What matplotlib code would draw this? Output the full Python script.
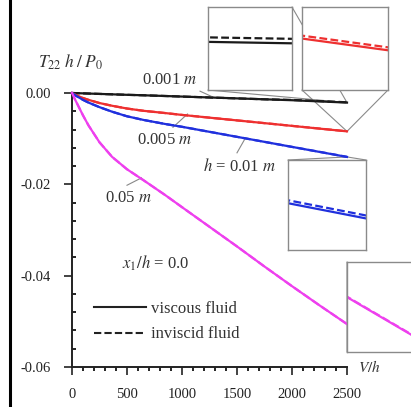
import matplotlib
matplotlib.use('Agg')
import matplotlib.pyplot as plt
import numpy as np
from matplotlib.lines import Line2D
from matplotlib.patches import ConnectionPatch
from matplotlib.ticker import MultipleLocator, FormatStrFormatter

plt.rcParams['font.family'] = ['Liberation Serif', 'DejaVu Serif']
plt.rcParams['mathtext.fontset'] = 'stix'
plt.rcParams['axes.unicode_minus'] = False

# valores (V/h e T22 h / P0)
vh = [0, 25, 50, 100, 150, 250, 365, 500, 650, 850, 1000, 1250, 1500, 1750, 2000, 2250, 2500]

h001_visc = [0, -0.00002, -0.00004, -0.00008, -0.00012, -0.0002, -0.00029, -0.0004, -0.0005,
             -0.00066, -0.00078, -0.00098, -0.00118, -0.00138, -0.00158, -0.00184, -0.0021]
h001_inv = [0, -0.00002, -0.00004, -0.00008, -0.00012, -0.0002, -0.00029, -0.0004, -0.0005,
            -0.00066, -0.00078, -0.00098, -0.00118, -0.00138, -0.00152, -0.001775, -0.002035]

h005_visc = [0, -0.0003, -0.0006, -0.0011, -0.0015, -0.0022, -0.0028, -0.0034, -0.0039,
             -0.0044, -0.0048, -0.0054, -0.0060, -0.0066, -0.0072, -0.0078, -0.0084]
h005_inv = [0, -0.0003, -0.0006, -0.0011, -0.0015, -0.0022, -0.0028, -0.0034, -0.0039,
            -0.0044, -0.0048, -0.0054, -0.0060, -0.0066, -0.0072, -0.007788, -0.008388]

h01_visc = [0, -0.0004, -0.0008, -0.0015, -0.0021, -0.0031, -0.0041, -0.0051, -0.0059,
            -0.0068, -0.0074, -0.0085, -0.0096, -0.0107, -0.0118, -0.0129, -0.0140]
h01_inv = [0, -0.0004, -0.0008, -0.0015, -0.0021, -0.0031, -0.0041, -0.0051, -0.0059,
           -0.0068, -0.0074, -0.0085, -0.0096, -0.0107, -0.0118, -0.012883, -0.013983]

h05_visc = [0, -0.0013, -0.0025, -0.0049, -0.0071, -0.0108, -0.0140, -0.0167, -0.0191,
            -0.0224, -0.0250, -0.0293, -0.0336, -0.0380, -0.0423, -0.0465, -0.0506]
h05_inv = [0, -0.0013, -0.0025, -0.0049, -0.0071, -0.0108, -0.0140, -0.0167, -0.0191,
           -0.0224, -0.0250, -0.0293, -0.0336, -0.0380, -0.0423, -0.046497, -0.050597]

cores = ['#1a1a1a', '#ee3030', '#2030dd', '#ee40ee']
series = [(h001_visc, h001_inv), (h005_visc, h005_inv), (h01_visc, h01_inv), (h05_visc, h05_inv)]

fig = plt.figure(figsize=(4.11, 4.07), dpi=100)
ax = fig.add_axes([72 / 411, 1 - 367 / 407, 275 / 411, 274 / 407])

tracejado = (3.5, 1.5)
for (visc, inv), c in zip(series, cores):
    ax.plot(vh, inv, color=c, lw=1.6, dashes=tracejado, clip_on=False, zorder=2)
    ax.plot(vh, visc, color=c, lw=1.6, clip_on=False, zorder=3)

ax.set_xlim(0, 2500)
ax.set_ylim(-0.06, 0)
for s in ['top', 'right']:
    ax.spines[s].set_visible(False)
for s in ['left', 'bottom']:
    ax.spines[s].set_linewidth(1.4)
    ax.spines[s].set_color('#222222')

ax.xaxis.set_major_locator(MultipleLocator(500))
ax.xaxis.set_minor_locator(MultipleLocator(100))
ax.yaxis.set_major_locator(MultipleLocator(0.02))
ax.yaxis.set_minor_locator(MultipleLocator(0.004))
ax.yaxis.set_major_formatter(FormatStrFormatter('%.2f'))
ax.xaxis.set_major_formatter(FormatStrFormatter('%d'))
ax.tick_params(axis='x', which='major', direction='out', length=6, width=1.2, pad=9,
               labelsize=10.5, colors='#222222')
ax.tick_params(axis='x', which='minor', direction='out', length=3, width=1.2)
ax.tick_params(axis='y', which='major', direction='out', length=6, width=1.2, pad=9,
               labelsize=10.5, colors='#222222')
ax.tick_params(axis='y', which='minor', direction='in', length=3, width=1.2)

# textos
cor_txt = '#333333'
ax.text(-0.004, 1.113, r'$T_{22}\;h\;/\;P_0$', transform=ax.transAxes, ha='center', va='center',
        fontsize=12.5, color=cor_txt)
ax.text(1.08, 0.0, r'$V/h$', transform=ax.transAxes, ha='center', va='center', fontsize=11,
        color=cor_txt)
ax.text(891, 0.00285, r'0.001 $m$', ha='center', va='center', fontsize=12, color=cor_txt)
ax.text(845, -0.0103, r'0.005 $m$', ha='center', va='center', fontsize=12, color=cor_txt)
ax.text(1527, -0.0162, r'$h$ = 0.01 $m$', ha='center', va='center', fontsize=12, color=cor_txt)
ax.text(509, -0.0230, r'0.05 $m$', ha='center', va='center', fontsize=12, color=cor_txt)
ax.text(764, -0.0372, r'$x_1/h$ = 0.0', ha='center', va='center', fontsize=12, color=cor_txt)

# linhas de chamada
cor_guia = '#888888'
ax.plot([1164, 1282], [0.0004, -0.0009], color=cor_guia, lw=0.8, clip_on=False)
ax.plot([918, 1050], [-0.0075, -0.0046], color=cor_guia, lw=0.8)
ax.plot([1500, 1573], [-0.0131, -0.0100], color=cor_guia, lw=0.8)
ax.plot([500, 630], [-0.0202, -0.0186], color=cor_guia, lw=0.8)

# legenda
handles = [Line2D([], [], color='#222222', lw=1.5),
           Line2D([], [], color='#222222', lw=1.5, dashes=tracejado)]
ax.legend(handles, ['viscous fluid', 'inviscid fluid'], loc='upper left',
          bbox_to_anchor=(0.08, 0.24), frameon=False, fontsize=12, handlelength=3.1,
          handletextpad=0.3, labelspacing=0.55, borderpad=0, borderaxespad=0,
          labelcolor=cor_txt)

# zooms (inset) no fim de cada curva
insets = [
    ([0.4945, 1.0109, 0.3055, 0.3029], [(1, 1), (0, 0)], 0.58, 0.0012),
    ([0.8364, 1.0109, 0.3127, 0.3029], [(0, 0), (1, 0)], 0.62, 0.00034),
    ([0.7855, 0.4270, 0.2836, 0.3285], [(0, 1), (1, 1)], 0.52, 0.00052),
    ([1.0, 0.0547, 0.2909, 0.3285], [(0, 1), (0, 0)], 0.61, 0.00063),
]
zoom_x = (2440, 2460)
for (rect, cantos, frac, span), (visc, inv), c in zip(insets, series, cores):
    ins = ax.inset_axes(rect)
    ins.plot(vh, inv, color=c, lw=1.6, dashes=tracejado)
    ins.plot(vh, visc, color=c, lw=1.6)
    y0 = np.interp(zoom_x[0], vh, visc)
    ins.set_xlim(*zoom_x)
    ins.set_ylim(y0 - frac * span, y0 + (1 - frac) * span)
    ins.set_xticks([])
    ins.set_yticks([])
    for s in ins.spines.values():
        s.set_color('#8a8a8a')
        s.set_linewidth(1.0)
    for canto in cantos:
        con = ConnectionPatch(xyA=canto, coordsA=ins.transAxes, xyB=(vh[-1], visc[-1]),
                              coordsB=ax.transData, color='#8a8a8a', lw=0.8)
        con.set_clip_on(False)
        con.set_zorder(1)
        ax.add_artist(con)

# borda preta a esquerda
fig.add_artist(Line2D([0.025, 0.025], [0, 1], transform=fig.transFigure, color='black', lw=2.2))

fig.savefig('out.png', dpi=100)
